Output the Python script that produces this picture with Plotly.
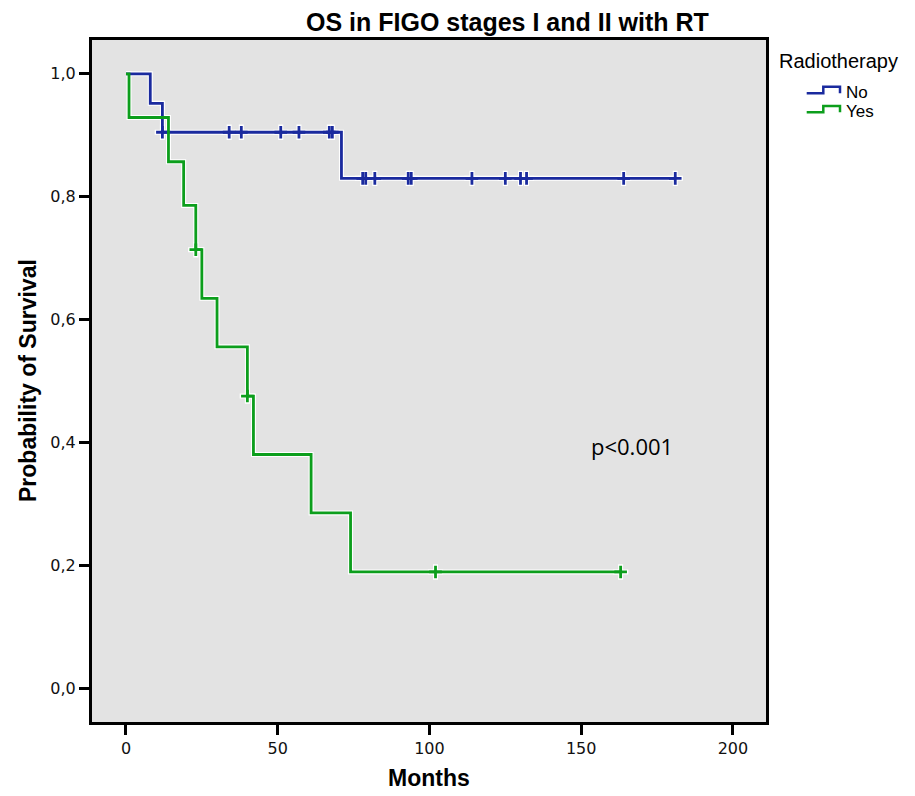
import plotly.graph_objects as go

# ---------------- data ----------------
no_times = [0, 8, 12, 71, 181]
no_surv = [1.0, 0.952, 0.905, 0.830, 0.830]
no_censor_times = [12, 34, 38, 51, 57, 67, 68, 78, 79, 82, 93, 94, 114, 125, 130, 132, 164, 181]
no_censor_surv = [0.905, 0.905, 0.905, 0.905, 0.905, 0.905, 0.905,
                  0.830, 0.830, 0.830, 0.830, 0.830, 0.830, 0.830, 0.830, 0.830, 0.830, 0.830]

yes_times = [0, 1, 14, 19, 23, 25, 30, 40, 42, 61, 74, 163]
yes_surv = [1.0, 0.929, 0.857, 0.786, 0.714, 0.635, 0.556, 0.476, 0.381, 0.286, 0.190, 0.190]
yes_censor_times = [23, 40, 102, 163]
yes_censor_surv = [0.714, 0.476, 0.190, 0.190]

x_tick_vals = [0, 50, 100, 150, 200]
x_tick_text = ["0", "50", "100", "150", "200"]
y_tick_vals = [0.0, 0.2, 0.4, 0.6, 0.8, 1.0]
y_tick_text = ["0,0", "0,2", "0,4", "0,6", "0,8", "1,0"]

series_names = ["No", "Yes"]
BLUE = "#1a2a9e"
GREEN = "#0c9e1c"

# ---------------- layout geometry (pixels) ----------------
FIG_W, FIG_H = 915, 796
L, T, W, H = 92, 40, 674, 682


def px(xp):
    return (xp - L) / W


def py(yp):
    return (T + H - yp) / H


fig = go.Figure()

curves = [
    (no_times, no_surv, no_censor_times, no_censor_surv, BLUE),
    (yes_times, yes_surv, yes_censor_times, yes_censor_surv, GREEN),
]

# white halos first
for t, s, ct, cs, col in curves:
    fig.add_trace(go.Scatter(x=t, y=s, mode="lines", line=dict(color="white", width=5, shape="hv"),
                             hoverinfo="skip", showlegend=False))
    fig.add_trace(go.Scatter(x=ct, y=cs, mode="markers",
                             marker=dict(symbol="cross-thin", size=11, line=dict(color="white", width=5)),
                             hoverinfo="skip", showlegend=False))

# coloured curves and censor marks
for (t, s, ct, cs, col), name in zip(curves, series_names):
    fig.add_trace(go.Scatter(x=t, y=s, mode="lines", name=name,
                             line=dict(color=col, width=2.8, shape="hv"), showlegend=False))
    fig.add_trace(go.Scatter(x=ct, y=cs, mode="markers", name=name + " censored",
                             marker=dict(symbol="cross-thin", size=9, color=col,
                                         line=dict(color=col, width=2.8)),
                             showlegend=False))

axis_common = dict(showline=True, linecolor="black", linewidth=3, mirror=True,
                   ticks="outside", ticklen=10, tickwidth=3, tickcolor="black",
                   showgrid=False, zeroline=False,
                   tickfont=dict(family="DejaVu Sans", size=16, color="#111111"))

fig.update_xaxes(range=[-11.2, 210.9], tickvals=x_tick_vals, ticktext=x_tick_text, **axis_common)
fig.update_yaxes(range=[-0.054, 1.055], tickvals=y_tick_vals, ticktext=y_tick_text, **axis_common)

annotations = [
    dict(text="<b>OS in FIGO stages I and II with RT</b>", x=px(507), y=py(22),
         font=dict(family="Liberation Sans", size=25, color="black")),
    dict(text="<b>Months</b>", x=px(429), y=py(778),
         font=dict(family="Liberation Sans", size=23, color="black")),
    dict(text="<b>Probability of Survival</b>", x=px(28), y=py(381), textangle=-90,
         font=dict(family="Liberation Sans", size=23, color="black")),
    dict(text="p<0.001", x=px(632), y=py(446),
         font=dict(family="Open Sans", size=22, color="black")),
    dict(text="Radiotherapy", x=px(777), y=py(61), xanchor="left",
         font=dict(family="Liberation Sans", size=20, color="black")),
    dict(text="No", x=px(844), y=py(92), xanchor="left",
         font=dict(family="Liberation Sans", size=17, color="black")),
    dict(text="Yes", x=px(844), y=py(111), xanchor="left",
         font=dict(family="Liberation Sans", size=17, color="black")),
]
for a in annotations:
    a.setdefault("xanchor", "center")
    a.update(xref="paper", yref="paper", yanchor="middle", showarrow=False)

# legend step glyphs
shapes = []
for yl, yh, col in [(93.3, 86.7, BLUE), (112.3, 106.0, GREEN)]:
    path = (f"M {px(806.7)},{py(yl)} L {px(823.3)},{py(yl)} L {px(823.3)},{py(yh)} "
            f"L {px(840)},{py(yh)} L {px(840)},{py(yl)}")
    shapes.append(dict(type="path", path=path, xref="paper", yref="paper",
                       line=dict(color=col, width=2.5)))

fig.update_layout(
    width=FIG_W, height=FIG_H,
    margin=dict(l=L, r=FIG_W - L - W, t=T, b=FIG_H - T - H),
    paper_bgcolor="white", plot_bgcolor="#e3e3e3",
    showlegend=False,
    annotations=annotations,
    shapes=shapes,
)

fig.write_html("out.html", config={"displayModeBar": False},
               post_script="document.body.style.margin='0';document.body.style.overflow='hidden';")
